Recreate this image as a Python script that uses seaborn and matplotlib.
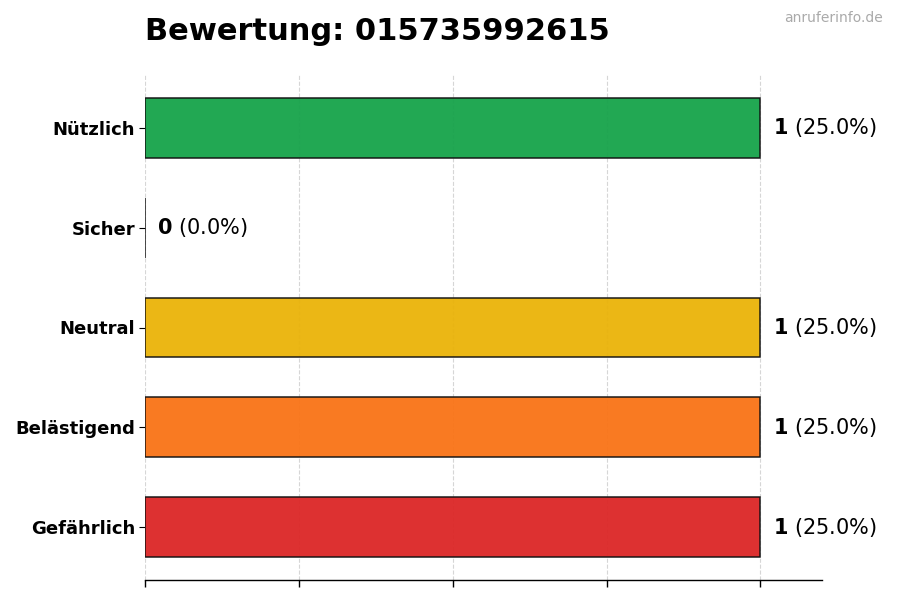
import matplotlib
matplotlib.use("Agg")
import matplotlib.pyplot as plt
import seaborn as sns
import pandas as pd

categories = ["Nützlich", "Sicher", "Neutral", "Belästigend", "Gefährlich"]
counts = [1, 0, 1, 1, 1]
palette = {"Nützlich": "#16a34a", "Sicher": "#3b82f6", "Neutral": "#eab308",
           "Belästigend": "#f97316", "Gefährlich": "#dc2626"}
title = "Bewertung: 015735992615"
watermark = "anruferinfo.de"

total = sum(counts)
df = pd.DataFrame({"cat": categories, "n": counts})

sns.set_theme(style="white")
plt.rcParams["font.family"] = ["DejaVu Sans"]

fig = plt.figure(figsize=(9, 6), dpi=100)
ax = fig.add_axes([145/900, 20/600, (822-145)/900, (580-75)/600])

sns.barplot(data=df, y="cat", x="n", hue="cat", palette=palette, orient="h",
            order=categories, hue_order=categories, legend=False, width=0.6,
            saturation=1, edgecolor="#111111", linewidth=1.1, alpha=0.95,
            ax=ax, zorder=2)

ax.set_xlim(0, 1.1)
ax.set_ylim(len(categories) - 0.47, -0.53)
ax.set_xticks([0, 0.25, 0.5, 0.75, 1.0])
ax.set_xticklabels([])
ax.grid(axis="x", linestyle="--", color="#cccccc", linewidth=0.8, alpha=0.8, zorder=0)
ax.set_axisbelow(True)
ax.set_xlabel("")
ax.set_ylabel("")
for s in ["top", "right", "left"]:
    ax.spines[s].set_visible(False)
ax.spines["bottom"].set_color("black")
ax.spines["bottom"].set_linewidth(1.0)
ax.tick_params(axis="x", bottom=True, length=5, width=1, color="black")
ax.tick_params(axis="y", left=True, length=4, width=0.8, color="black", pad=3)
for lbl in ax.get_yticklabels():
    lbl.set_fontweight("bold")
    lbl.set_fontsize(13)
    lbl.set_color("black")

for i, v in enumerate(counts):
    pct = 100.0 * v / total if total else 0
    ax.text(v + 0.02, i, r"$\mathbf{%d}$ (%.1f%%)" % (v, pct), va="center", ha="left",
            fontsize=15, color="black")

fig.text(145/900, 1 - 40/600, title, fontsize=22, fontweight="bold", ha="left",
         va="baseline", color="black")
fig.text(883/900, 1 - 11/600, watermark, fontsize=10, color="#aaaaaa", ha="right", va="top")

fig.savefig("out.png", dpi=100)
